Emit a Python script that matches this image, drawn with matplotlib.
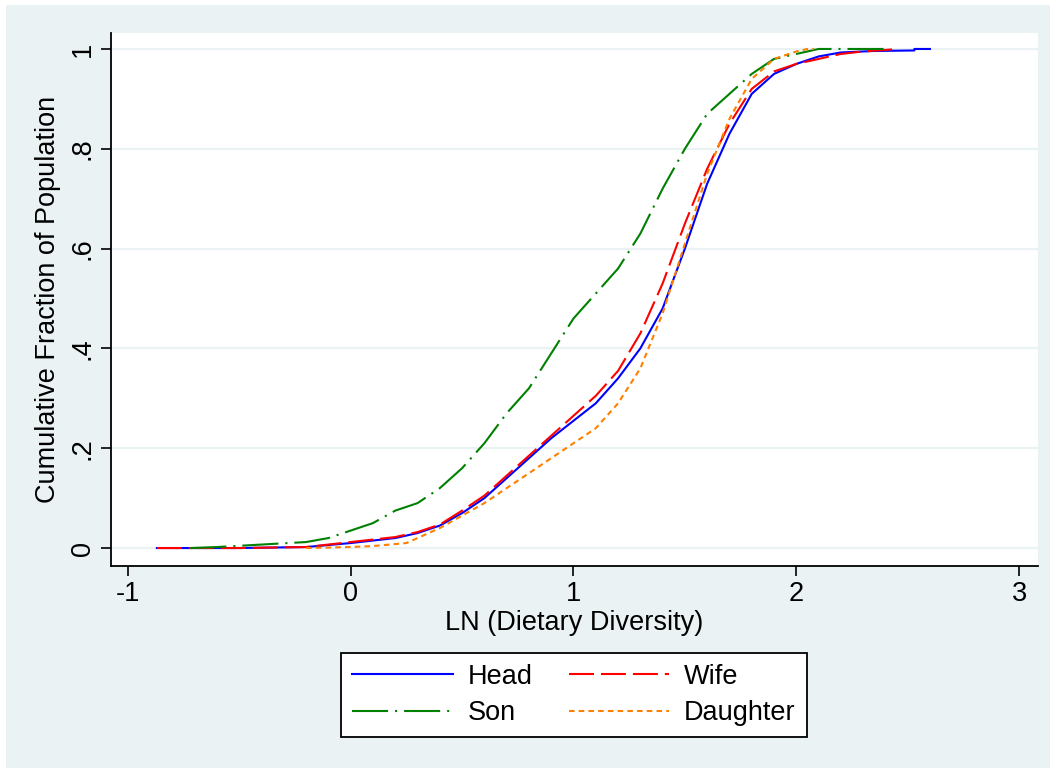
import matplotlib.pyplot as plt
from matplotlib.patches import Rectangle

head_x = [-0.87, -0.5, -0.2, 0.0, 0.2, 0.3, 0.4, 0.5, 0.6, 0.7, 0.8, 0.9, 1.0, 1.1, 1.2, 1.3,
          1.4, 1.5, 1.6, 1.7, 1.8, 1.9, 2.0, 2.1, 2.2, 2.35, 2.53, 2.53, 2.6]
head_y = [0.0, 0.0, 0.002, 0.01, 0.02, 0.03, 0.045, 0.07, 0.1, 0.14, 0.18, 0.22, 0.255, 0.29,
          0.34, 0.40, 0.48, 0.60, 0.73, 0.83, 0.91, 0.95, 0.97, 0.985, 0.993, 0.996, 0.997, 1.0, 1.0]

wife_x = [-0.87, -0.5, -0.2, 0.0, 0.2, 0.3, 0.4, 0.5, 0.6, 0.7, 0.8, 0.9, 1.0, 1.1, 1.2, 1.3,
          1.4, 1.5, 1.6, 1.7, 1.8, 1.9, 2.0, 2.1, 2.2, 2.3, 2.46]
wife_y = [0.0, 0.0, 0.002, 0.012, 0.022, 0.032, 0.047, 0.075, 0.105, 0.145, 0.185, 0.225, 0.265,
          0.305, 0.355, 0.43, 0.53, 0.65, 0.76, 0.85, 0.92, 0.955, 0.97, 0.98, 0.99, 0.995, 1.0]

son_x = [-0.72, -0.6, -0.4, -0.2, -0.1, 0.0, 0.1, 0.2, 0.3, 0.4, 0.5, 0.6, 0.7, 0.8, 0.9, 1.0,
         1.1, 1.2, 1.3, 1.4, 1.5, 1.6, 1.7, 1.8, 1.9, 2.0, 2.1, 2.42]
son_y = [0.0, 0.002, 0.007, 0.012, 0.02, 0.035, 0.05, 0.075, 0.09, 0.12, 0.16, 0.21, 0.27, 0.32,
         0.39, 0.46, 0.51, 0.56, 0.63, 0.72, 0.80, 0.87, 0.91, 0.95, 0.98, 0.99, 1.0, 1.0]

daughter_x = [-0.2, 0.0, 0.1, 0.25, 0.3, 0.4, 0.5, 0.6, 0.7, 0.8, 0.9, 1.0, 1.1, 1.2, 1.3, 1.4,
              1.5, 1.6, 1.7, 1.8, 1.9, 2.0, 2.05, 2.08]
daughter_y = [0.0, 0.002, 0.004, 0.01, 0.02, 0.04, 0.065, 0.09, 0.12, 0.15, 0.18, 0.21, 0.24,
              0.29, 0.36, 0.47, 0.61, 0.75, 0.86, 0.94, 0.98, 0.995, 1.0, 1.0]

x_ticks = [-1, 0, 1, 2, 3]
y_ticks = [0, 0.2, 0.4, 0.6, 0.8, 1.0]
y_tick_labels = ['0', '.2', '.4', '.6', '.8', '1']

plt.rcParams['font.family'] = ['Liberation Sans', 'DejaVu Sans']
plt.rcParams['lines.scale_dashes'] = False

bg = '#EAF2F3'
fs = 19.5
fig = plt.figure(figsize=(10.55, 7.73), dpi=100)
fig.patch.set_facecolor('white')
fig.patches.append(Rectangle((6 / 1055, 5 / 773), 1044 / 1055, 763 / 773,
                             transform=fig.transFigure, facecolor=bg, edgecolor='none', zorder=-10))

ax = fig.add_axes([111 / 1055, 1 - 566 / 773, (1038 - 111) / 1055, (566 - 33) / 773])
ax.set_facecolor('white')

lw = 1.5
h_head, = ax.plot(head_x, head_y, color='#0000FF', lw=lw, label='Head', zorder=3)
h_wife, = ax.plot(wife_x, wife_y, color='#FF0000', lw=lw, dashes=(18, 5), label='Wife', zorder=4)
h_son, = ax.plot(son_x, son_y, color='#008000', lw=lw, dashes=(26, 5, 1.5, 5), label='Son', zorder=4)
h_dau, = ax.plot(daughter_x, daughter_y, color='#FF8000', lw=lw, dashes=(4, 3), label='Daughter', zorder=4)

ax.set_xlim(-1.076, 3.085)
ax.set_ylim(-0.036, 1.032)
ax.set_xticks(x_ticks)
ax.set_xticklabels([str(t) for t in x_ticks])
ax.set_yticks(y_ticks)
ax.set_yticklabels(y_tick_labels, rotation=90, va='center')
ax.tick_params(labelsize=fs, length=7, width=1.2, color='black', pad=4)
ax.yaxis.grid(True, color=bg, lw=1.6)
ax.set_axisbelow(True)
for side in ['top', 'right']:
    ax.spines[side].set_visible(False)
for side in ['left', 'bottom']:
    ax.spines[side].set_linewidth(1.3)

ax.set_xlabel('LN (Dietary Diversity)', fontsize=fs, labelpad=2)
ax.set_ylabel('Cumulative Fraction of Population', fontsize=fs, labelpad=6)

# column-wise fill: Head / Son in the first column, Wife / Daughter in the second
leg = fig.legend([h_head, h_son, h_wife, h_dau], ['Head', 'Son', 'Wife', 'Daughter'],
                 loc='center', bbox_to_anchor=(574 / 1055, 1 - 695 / 773), ncol=2,
                 fontsize=fs, handlelength=3.7, handletextpad=0.55, columnspacing=1.35,
                 fancybox=False, edgecolor='black', framealpha=1, borderpad=0.4,
                 borderaxespad=0, labelspacing=0.4)
leg.get_frame().set_linewidth(1.3)

plt.savefig('out.png', dpi=100)
